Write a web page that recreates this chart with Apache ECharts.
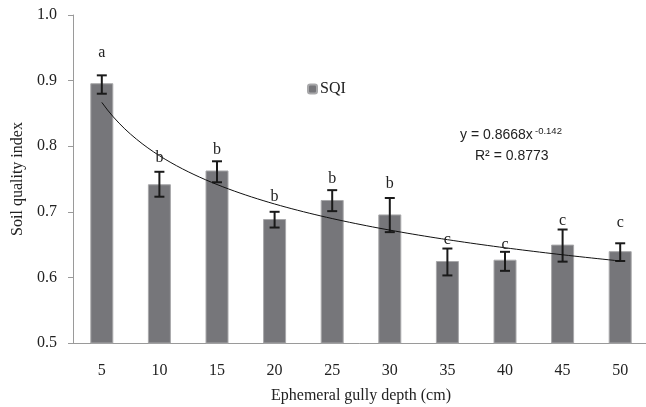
<!DOCTYPE html>
<html><head><meta charset="utf-8">
<script src="https://cdn.jsdelivr.net/npm/echarts@6/dist/echarts.min.js"></script>
<style>html,body{margin:0;padding:0;background:#fff}#c{width:646px;height:407px}</style>
</head><body><div id="c"></div>
<script>
const categories = ['5','10','15','20','25','30','35','40','45','50'];
const sqi      = [0.896, 0.742, 0.763, 0.689, 0.718, 0.696, 0.625, 0.627, 0.650, 0.640];
const errLow   = [0.880, 0.723, 0.745, 0.676, 0.701, 0.669, 0.603, 0.610, 0.624, 0.625];
const errHigh  = [0.908, 0.761, 0.777, 0.700, 0.733, 0.721, 0.644, 0.639, 0.673, 0.652];
const letters  = ['a','b','b','b','b','b','c','c','c','c'];
const letterY  = [0.942, 0.783, 0.794, 0.723, 0.750, 0.743, 0.658, 0.650, 0.687, 0.683];
const yTicks   = [0.5, 0.6, 0.7, 0.8, 0.9, 1.0];
const fitA = 0.8668, fitB = -0.142;

const trend = [];
for (let x = 1; x <= 10.0001; x += 0.1) trend.push([x, fitA * Math.pow(x, fitB)]);

const serif = 'Liberation Serif';
const chart = echarts.init(document.getElementById('c'));
chart.setOption({
  animation: false,
  grid: { left: 73, top: 15, width: 576, height: 328, outerBoundsMode: 'none', containLabel: false },
  legend: {
    left: 302, top: 76, itemWidth: 9, itemHeight: 9, itemGap: 4,
    data: ['SQI'],
    textStyle: { fontFamily: serif, fontSize: 16, color: '#222', padding: [0,0,0,-2] }
  },
  xAxis: [{
    type: 'category', data: categories,
    axisLine: { lineStyle: { color: '#9a9a9a', width: 1 } },
    axisTick: { length: 5, lineStyle: { color: '#9a9a9a' } },
    axisLabel: { fontFamily: serif, fontSize: 16, color: '#222', margin: 20 },
    name: 'Ephemeral gully depth (cm)', nameLocation: 'middle', nameGap: 45,
    nameTextStyle: { fontFamily: serif, fontSize: 16, color: '#222' }
  }, {
    type: 'value', min: 0.5, max: 10.5, show: false
  }],
  yAxis: {
    type: 'value', min: 0.5, max: 1.0, interval: 0.1,
    splitLine: { show: false },
    axisLine: { show: true, lineStyle: { color: '#9a9a9a' } },
    axisTick: { show: true, length: 5, lineStyle: { color: '#9a9a9a' } },
    axisLabel: { fontFamily: serif, fontSize: 16, color: '#222', margin: 16,
      formatter: v => yTicks.includes(+v.toFixed(1)) ? v.toFixed(1) : '' },
    name: 'Soil quality index', nameLocation: 'middle', nameGap: 47,
    nameTextStyle: { fontFamily: serif, fontSize: 16, color: '#222' }
  },
  series: [{
    name: 'SQI', type: 'bar', data: sqi, barWidth: 23,
    itemStyle: { color: '#76767a', borderColor: '#a8a8aa', borderWidth: 1 }
  }, {
    type: 'custom', name: 'err',
    data: categories.map((c, i) => [i, errLow[i], errHigh[i]]),
    renderItem: (params, api) => {
      const lo = api.coord([api.value(0), api.value(1)]);
      const hi = api.coord([api.value(0), api.value(2)]);
      const w = 5;
      const st = { stroke: '#1a1a1a', lineWidth: 2 };
      return { type: 'group', children: [
        { type: 'line', shape: { x1: lo[0], y1: lo[1], x2: hi[0], y2: hi[1] }, style: st },
        { type: 'line', shape: { x1: lo[0]-w, y1: lo[1], x2: lo[0]+w, y2: lo[1] }, style: st },
        { type: 'line', shape: { x1: hi[0]-w, y1: hi[1], x2: hi[0]+w, y2: hi[1] }, style: st }
      ]};
    },
    z: 5
  }, {
    type: 'line', xAxisIndex: 1, data: trend, showSymbol: false, symbol: 'none',
    lineStyle: { color: '#111', width: 1 }, z: 6, silent: true
  }, {
    type: 'scatter', data: letterY.map((v, i) => [i, v]),
    symbolSize: 0.1, itemStyle: { opacity: 0 },
    label: { show: true, position: 'inside', formatter: p => letters[p.dataIndex],
      fontFamily: serif, fontSize: 16, color: '#222', opacity: 1 },
    z: 7
  }],
  graphic: [
    { type: 'text', left: 460, top: 128, style: { text: 'y = 0.8668x', fontFamily: 'Liberation Sans', fontSize: 14, fill: '#222' } },
    { type: 'text', left: 535, top: 126, style: { text: '-0.142', fontFamily: 'Liberation Sans', fontSize: 9.5, fill: '#222' } },
    { type: 'text', left: 475, top: 149, style: { text: 'R² = 0.8773', fontFamily: 'Liberation Sans', fontSize: 14, fill: '#222' } }
  ]
});
</script></body></html>
